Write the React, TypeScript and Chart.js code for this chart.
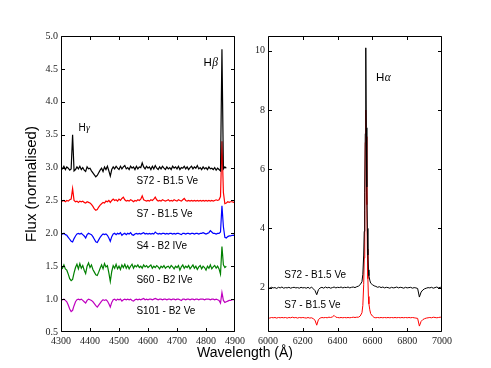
import React, { useEffect, useRef } from 'react';
import { Chart, registerables } from 'chart.js';
Chart.register(...registerables);

// ---------- Left panel (blue region) ----------
const leftWave = [
  4300, 4305, 4310, 4315, 4320, 4325, 4330, 4335, 4340, 4345,
  4350, 4355, 4360, 4365, 4370, 4375, 4380, 4385, 4390, 4395,
  4400, 4405, 4410, 4415, 4420, 4425, 4430, 4435, 4440, 4445,
  4450, 4455, 4460, 4465, 4470, 4475, 4480, 4485, 4490, 4495,
  4500, 4505, 4510, 4515, 4520, 4525, 4530, 4535, 4540, 4545,
  4550, 4555, 4560, 4565, 4570, 4575, 4580, 4585, 4590, 4595,
  4600, 4605, 4610, 4615, 4620, 4625, 4630, 4635, 4640, 4645,
  4650, 4655, 4660, 4665, 4670, 4675, 4680, 4685, 4690, 4695,
  4700, 4705, 4710, 4715, 4720, 4725, 4730, 4735, 4740, 4745,
  4750, 4755, 4760, 4765, 4770, 4775, 4780, 4785, 4790, 4795,
  4800, 4805, 4810, 4815, 4820, 4825, 4830, 4835, 4840, 4845,
  4850, 4855, 4860, 4865, 4870, 4875, 4880, 4885, 4890, 4895, 4900,
];

const s72Blue = [
  3.00, 2.98, 3.02, 2.97, 3.01, 2.99, 2.96, 2.98, 3.50, 2.95,
  2.97, 3.01, 2.98, 3.02, 2.97, 3.00, 2.96, 2.94, 3.01, 2.98,
  2.99, 2.95, 2.92, 2.89, 2.86, 2.88, 2.92, 2.96, 2.99, 2.94,
  3.01, 2.97, 3.02, 2.95, 2.87, 2.97, 3.01, 2.98, 3.02, 2.99,
  2.97, 3.02, 2.98, 3.01, 3.03, 2.98, 3.00, 2.97, 3.02, 2.99,
  3.01, 2.97, 3.02, 2.98, 3.01, 3.00, 3.07, 3.01, 2.98, 3.02,
  2.99, 3.01, 2.97, 3.02, 2.98, 3.03, 2.99, 2.97, 3.01, 2.98,
  3.02, 2.99, 2.97, 3.01, 2.98, 3.00, 2.97, 3.02, 2.99, 3.01,
  2.98, 3.02, 2.97, 3.00, 2.99, 3.02, 2.98, 3.01, 2.97, 3.00,
  3.02, 2.98, 3.01, 2.99, 3.03, 2.98, 3.00, 2.97, 3.01, 2.98,
  3.00, 2.97, 3.01, 2.98, 2.99, 2.97, 3.00, 2.96, 2.99, 2.97,
  2.95, 4.80, 2.98, 3.01, 2.99,
];

const s7Blue = [
  2.50, 2.49, 2.50, 2.48, 2.50, 2.49, 2.51, 2.52, 2.68, 2.50,
  2.48, 2.49, 2.47, 2.49, 2.48, 2.49, 2.47, 2.46, 2.48, 2.47,
  2.46, 2.44, 2.41, 2.37, 2.35, 2.36, 2.40, 2.43, 2.45, 2.47,
  2.46, 2.49, 2.48, 2.50, 2.47, 2.50, 2.52, 2.50, 2.51, 2.49,
  2.52, 2.50, 2.53, 2.55, 2.51, 2.49, 2.50, 2.49, 2.51, 2.50,
  2.48, 2.50, 2.49, 2.51, 2.50, 2.52, 2.57, 2.51, 2.50, 2.49,
  2.50, 2.49, 2.51, 2.50, 2.52, 2.55, 2.51, 2.49, 2.50, 2.49,
  2.51, 2.50, 2.49, 2.50, 2.51, 2.49, 2.50, 2.49, 2.51, 2.50,
  2.49, 2.51, 2.50, 2.49, 2.51, 2.53, 2.50, 2.49, 2.50, 2.49,
  2.50, 2.49, 2.50, 2.49, 2.50, 2.49, 2.50, 2.49, 2.50, 2.49,
  2.50, 2.49, 2.50, 2.49, 2.50, 2.49, 2.50, 2.51, 2.50, 2.51,
  2.56, 3.40, 2.62, 2.45, 2.46, 2.48, 2.47, 2.48, 2.48, 2.47, 2.48,
];

const s4Blue = [
  2.00, 1.99, 2.00, 1.98, 1.97, 1.94, 1.91, 1.88, 1.87, 1.92,
  1.96, 1.99, 2.00, 1.99, 2.00, 1.98, 1.96, 1.93, 1.98, 2.00,
  1.99, 1.98, 1.95, 1.91, 1.87, 1.86, 1.90, 1.94, 1.97, 1.99,
  1.98, 1.99, 1.97, 1.93, 1.88, 1.95, 1.99, 2.00, 1.98, 2.00,
  1.99, 2.01, 1.97, 1.99, 2.00, 1.98, 2.00, 1.99, 2.01, 1.98,
  1.97, 1.99, 2.00, 1.99, 2.00, 1.99, 2.00, 2.01, 1.99, 2.00,
  1.99, 2.00, 1.99, 2.00, 1.99, 2.02, 2.00, 1.99, 2.00, 1.99,
  2.00, 2.00, 1.99, 2.00, 1.99, 2.00, 2.00, 1.99, 2.00, 1.99,
  2.00, 2.00, 1.99, 1.98, 2.00, 2.00, 1.99, 2.00, 2.00, 1.99,
  2.00, 2.00, 1.99, 2.00, 2.00, 1.99, 2.00, 2.00, 2.01, 2.00,
  1.99, 2.00, 2.01, 2.04, 2.02, 2.00, 2.00, 1.99, 2.00, 2.00,
  2.02, 2.42, 2.10, 1.94, 1.93, 1.95, 1.96, 1.96, 1.97, 1.97, 1.98,
];

const s60Blue = [
  1.50, 1.47, 1.52, 1.46, 1.44, 1.38, 1.31, 1.28, 1.30, 1.40,
  1.48, 1.53, 1.46, 1.54, 1.47, 1.51, 1.44, 1.39, 1.50, 1.55,
  1.48, 1.52, 1.45, 1.41, 1.37, 1.36, 1.41, 1.47, 1.52, 1.46,
  1.54, 1.49, 1.51, 1.40, 1.27, 1.42, 1.51, 1.47, 1.53, 1.46,
  1.50, 1.45, 1.52, 1.48, 1.53, 1.47, 1.51, 1.46, 1.50, 1.53,
  1.47, 1.51, 1.49, 1.52, 1.48, 1.50, 1.47, 1.52, 1.49, 1.51,
  1.48, 1.50, 1.52, 1.47, 1.50, 1.48, 1.51, 1.49, 1.46, 1.50,
  1.48, 1.51, 1.47, 1.49, 1.50, 1.47, 1.51, 1.49, 1.46, 1.50,
  1.48, 1.51, 1.44, 1.49, 1.52, 1.47, 1.50, 1.48, 1.51, 1.46,
  1.49, 1.52, 1.47, 1.50, 1.45, 1.49, 1.51, 1.46, 1.50, 1.48,
  1.44, 1.50, 1.47, 1.52, 1.46, 1.49, 1.51, 1.47, 1.50, 1.46,
  1.38, 1.80, 1.52, 1.48, 1.50,
];

const s101Blue = [
  1.00, 0.99, 1.00, 0.98, 0.96, 0.91, 0.85, 0.81, 0.83, 0.90,
  0.96, 0.99, 1.00, 0.99, 1.00, 0.98, 0.96, 0.94, 0.98, 1.00,
  0.99, 0.98, 0.96, 0.93, 0.90, 0.88, 0.91, 0.94, 0.97, 0.99,
  0.98, 0.99, 0.97, 0.93, 0.88, 0.95, 0.99, 1.00, 0.98, 1.00,
  0.99, 1.00, 0.97, 0.99, 1.00, 0.99, 1.00, 0.99, 1.00, 0.98,
  0.97, 0.99, 1.00, 0.99, 1.00, 0.99, 1.00, 1.01, 0.99, 1.00,
  0.99, 1.00, 1.00, 0.99, 1.00, 1.01, 1.00, 0.99, 1.00, 1.00,
  0.99, 1.00, 1.00, 0.99, 1.00, 1.00, 0.99, 1.00, 1.00, 0.99,
  1.00, 1.00, 0.99, 0.98, 1.00, 1.00, 0.99, 1.00, 1.00, 0.99,
  1.00, 1.00, 0.99, 1.00, 1.00, 0.99, 1.00, 1.00, 1.00, 0.99,
  1.00, 1.00, 1.00, 0.99, 1.00, 1.00, 0.99, 1.00, 0.99, 0.98,
  0.94, 1.10, 0.98, 0.95, 0.96, 0.97, 0.98, 0.98, 0.99, 0.99, 0.99,
];

const leftXTicks = [4300, 4400, 4500, 4600, 4700, 4800, 4900];
const leftYTicks = [0.5, 1.0, 1.5, 2.0, 2.5, 3.0, 3.5, 4.0, 4.5, 5.0];
const leftLabelText = ['S72 - B1.5 Ve', 'S7 - B1.5 Ve', 'S4 - B2 IVe', 'S60 - B2 IVe', 'S101 - B2 Ve'];
const leftLabelFlux = [2.75, 2.255, 1.757, 1.24, 0.77];
const leftLabelWave = 4560;

// ---------- Right panel (H-alpha region) ----------
const rightWave = [
  6000, 6010, 6020, 6030, 6040, 6050, 6060, 6070, 6080, 6090,
  6100, 6110, 6120, 6130, 6140, 6150, 6160, 6170, 6180, 6190,
  6200, 6210, 6220, 6230, 6240, 6250, 6260, 6270, 6280, 6290,
  6300, 6310, 6320, 6330, 6340, 6350, 6360, 6370, 6380, 6390,
  6400, 6410, 6420, 6430, 6440, 6450, 6460, 6470, 6480, 6490,
  6500, 6510, 6520, 6530,
  6540, 6545, 6550, 6553, 6556, 6559, 6562, 6565, 6568, 6571, 6574, 6577, 6580, 6585, 6590,
  6600, 6610, 6620, 6630, 6640, 6650, 6660, 6670, 6680, 6690,
  6700, 6710, 6720, 6730, 6740, 6750, 6760, 6770, 6780, 6790,
  6800, 6810, 6820, 6830, 6840, 6850, 6860, 6870, 6880, 6890,
  6900, 6910, 6920, 6930, 6940, 6950, 6960, 6970, 6980, 6990,
  7000,
];

const s72Red = [
  2.00, 1.98, 2.01, 1.99, 2.00, 1.97, 2.01, 1.99, 2.02, 1.98,
  2.00, 1.99, 2.01, 1.98, 2.00, 2.01, 1.99, 2.00, 1.98, 2.01,
  1.99, 2.00, 1.98, 2.01, 1.97, 2.02, 1.96, 1.90, 1.76, 1.93,
  1.99, 2.01, 1.98, 2.02, 1.99, 2.01, 1.98, 2.00, 2.02, 1.99,
  2.01, 2.00, 2.02, 1.99, 2.01, 2.00, 2.02, 1.99, 2.01, 2.02,
  2.00, 2.03, 2.05, 2.10,
  2.20, 2.45, 3.10, 3.90, 5.20, 7.20, 10.10, 7.40, 5.40, 4.00, 3.10, 2.60, 2.40, 2.25, 2.15,
  2.10, 2.06, 2.04, 2.01, 2.03, 2.00, 2.02, 1.99, 2.01, 2.00,
  1.98, 2.01, 1.99, 2.00, 2.02, 1.99, 2.01, 2.00, 1.98, 2.01,
  1.99, 2.00, 2.01, 1.98, 2.00, 1.99, 1.97, 1.68, 1.85, 1.92,
  1.96, 1.98, 2.00, 1.99, 2.01, 1.98, 2.00, 2.02, 1.99, 2.01,
  2.00,
];

const s7Red = [
  0.98, 0.97, 0.99, 0.98, 0.99, 0.97, 0.99, 0.98, 0.99, 0.98,
  0.99, 0.97, 0.99, 0.98, 1.00, 0.98, 0.99, 0.97, 0.99, 0.98,
  0.99, 0.98, 0.97, 0.99, 0.97, 0.98, 0.95, 0.90, 0.73, 0.92,
  0.97, 0.99, 0.98, 0.99, 0.98, 1.00, 0.99, 1.01, 1.06, 1.00,
  0.99, 0.98, 0.99, 0.98, 0.99, 0.98, 0.99, 0.98, 0.99, 1.00,
  0.99, 1.00, 1.00, 1.04,
  1.15, 1.40, 2.10, 3.00, 4.60, 6.90, 8.00, 7.10, 4.80, 3.30, 2.30, 1.70, 1.45, 1.25, 1.12,
  1.04, 0.99, 0.98, 0.99, 0.98, 0.99, 0.98, 0.99, 0.98, 0.99,
  0.98, 0.99, 0.98, 0.99, 0.98, 0.99, 0.98, 0.99, 0.98, 0.99,
  0.98, 0.99, 0.98, 0.99, 0.98, 0.97, 0.96, 0.70, 0.86, 0.92,
  0.95, 0.97, 0.98, 0.99, 0.98, 1.00, 0.99, 0.98, 0.99, 1.00,
  0.99,
];

const rightXTicks = [6000, 6200, 6400, 6600, 6800, 7000];
const rightYTicks = [2, 4, 6, 8, 10];
const rightLabelText = ['S72 - B1.5 Ve', 'S7 - B1.5 Ve'];
const rightLabelFlux = [2.314, 1.30];
const rightLabelWave = 6094;

// ---------- helpers ----------
const SANS = '"Liberation Sans", Arial, sans-serif';
const SERIF = '"Liberation Serif", "Times New Roman", serif';

type Note = { text: string; greek?: string; x: number; y: number; size: number };

function toPoints(wave: number[], flux: number[]) {
  return flux.map((f, i) => ({ x: wave[i], y: f }));
}

function framePlugin(notes: Note[], extra?: (chart: any) => void) {
  return {
    id: 'frameAndNotes',
    afterDatasetsDraw(chart: any) {
      const { ctx, chartArea: a, scales } = chart;
      const xs = scales.x;
      const ys = scales.y;
      const L = a.left + 0.5, R = a.right - 0.5, T = a.top + 0.5, B = a.bottom - 0.5;
      const tl = 3.5;
      ctx.save();
      ctx.strokeStyle = '#000';
      ctx.lineWidth = 1;
      ctx.beginPath();
      ctx.rect(L, T, R - L, B - T);
      for (const t of xs.ticks) {
        let p = Math.round(xs.getPixelForValue(t.value)) + 0.5;
        p = Math.min(Math.max(p, L), R);
        ctx.moveTo(p, B); ctx.lineTo(p, B - tl);
        ctx.moveTo(p, T); ctx.lineTo(p, T + tl);
      }
      for (const t of ys.ticks) {
        let p = Math.round(ys.getPixelForValue(t.value)) + 0.5;
        p = Math.min(Math.max(p, T), B);
        ctx.moveTo(L, p); ctx.lineTo(L + tl, p);
        ctx.moveTo(R, p); ctx.lineTo(R - tl, p);
      }
      ctx.stroke();

      ctx.fillStyle = '#000';
      ctx.textAlign = 'left';
      ctx.textBaseline = 'alphabetic';
      for (const n of notes) {
        const px = xs.getPixelForValue(n.x);
        const py = ys.getPixelForValue(n.y);
        ctx.font = `${n.size}px ${SANS}`;
        ctx.fillText(n.text, px, py);
        if (n.greek) {
          const w = ctx.measureText(n.text).width;
          ctx.font = `italic ${n.size}px ${SERIF}`;
          ctx.fillText(n.greek, px + w + 0.5, py);
        }
      }
      if (extra) extra(chart);
      ctx.restore();
    },
  };
}

function axisCommon(ticks: number[], fmt: (v: number) => string, fitSize: (s: any) => void) {
  return {
    type: 'linear' as const,
    afterBuildTicks: (s: any) => { s.ticks = ticks.map((v) => ({ value: v })); },
    afterFit: fitSize,
    grid: { display: false, drawTicks: false },
    border: { display: false },
    ticks: {
      font: { family: SERIF, size: 10 },
      color: '#222',
      padding: 3,
      maxRotation: 0,
      autoSkip: false,
      callback: (v: any) => fmt(Number(v)),
    },
  };
}

export default function App() {
  const leftRef = useRef<HTMLCanvasElement>(null);
  const rightRef = useRef<HTMLCanvasElement>(null);

  useEffect(() => {
    const leftNotes: Note[] = [
      { text: 'H', greek: 'γ', x: 4360, y: 3.556, size: 10 },
      { text: 'H', greek: 'β', x: 4791, y: 4.544, size: 11.5 },
      ...leftLabelText.map((t, i) => ({ text: t, x: leftLabelWave, y: leftLabelFlux[i], size: 10 })),
    ];
    const rightNotes: Note[] = [
      { text: 'H', greek: 'α', x: 6621, y: 8.98, size: 11.5 },
      ...rightLabelText.map((t, i) => ({ text: t, x: rightLabelWave, y: rightLabelFlux[i], size: 10 })),
    ];

    const xTitle = (chart: any) => {
      const { ctx } = chart;
      ctx.font = `14px ${SANS}`;
      ctx.textAlign = 'center';
      ctx.textBaseline = 'alphabetic';
      ctx.fillStyle = '#000';
      ctx.fillText('Wavelength (Å)', 245, 357);
    };

    const lineDs = (label: string, wave: number[], flux: number[], color: string, w: number) => ({
      label,
      data: toPoints(wave, flux),
      borderColor: color,
      backgroundColor: color,
      borderWidth: w,
      pointRadius: 0,
      tension: 0,
      fill: false,
    });

    const c1 = new Chart(leftRef.current as HTMLCanvasElement, {
      type: 'line',
      data: {
        datasets: [
          lineDs('S72 - B1.5 Ve', leftWave, s72Blue, '#000000', 1.2),
          lineDs('S7 - B1.5 Ve', leftWave, s7Blue, '#ff0000', 1.2),
          lineDs('S4 - B2 IVe', leftWave, s4Blue, '#0000ff', 1.2),
          lineDs('S60 - B2 IVe', leftWave, s60Blue, '#008000', 1.2),
          lineDs('S101 - B2 Ve', leftWave, s101Blue, '#bf00bf', 1.2),
        ],
      },
      options: {
        responsive: false,
        animation: false,
        devicePixelRatio: 1,
        layout: { padding: { left: 0, top: 36, right: 256, bottom: 0 } },
        plugins: { legend: { display: false }, tooltip: { enabled: false } },
        events: [],
        scales: {
          x: { ...axisCommon(leftXTicks, (v) => String(v), (s: any) => { s.height = 36; }), min: 4300, max: 4900 },
          y: {
            ...axisCommon(leftYTicks, (v) => v.toFixed(1), (s: any) => { s.width = 61; }),
            min: 0.5,
            max: 5.0,
            title: {
              display: true,
              text: 'Flux (normalised)',
              font: { family: SANS, size: 15 },
              color: '#000',
              padding: { top: 23, bottom: 0 },
            },
          },
        },
      },
      plugins: [framePlugin(leftNotes, xTitle)],
    } as any);

    const c2 = new Chart(rightRef.current as HTMLCanvasElement, {
      type: 'line',
      data: {
        datasets: [
          lineDs('S72 - B1.5 Ve', rightWave, s72Red, '#000000', 1),
          lineDs('S7 - B1.5 Ve', rightWave, s7Red, '#ff0000', 1),
        ],
      },
      options: {
        responsive: false,
        animation: false,
        devicePixelRatio: 1,
        layout: { padding: { left: 238, top: 36, right: 49, bottom: 0 } },
        plugins: { legend: { display: false }, tooltip: { enabled: false } },
        events: [],
        scales: {
          x: { ...axisCommon(rightXTicks, (v) => String(v), (s: any) => { s.height = 36; }), min: 6000, max: 7000 },
          y: { ...axisCommon(rightYTicks, (v) => String(v), (s: any) => { s.width = 30; }), min: 0.5, max: 10.5 },
        },
      },
      plugins: [framePlugin(rightNotes)],
    } as any);

    return () => {
      c1.destroy();
      c2.destroy();
    };
  }, []);

  const cs: React.CSSProperties = { position: 'absolute', left: 0, top: 0 };
  return (
    <div style={{ position: 'absolute', left: 0, top: 0, width: 491, height: 368, background: '#fff' }}>
      <canvas ref={leftRef} width={491} height={368} style={cs} />
      <canvas ref={rightRef} width={491} height={368} style={cs} />
    </div>
  );
}
